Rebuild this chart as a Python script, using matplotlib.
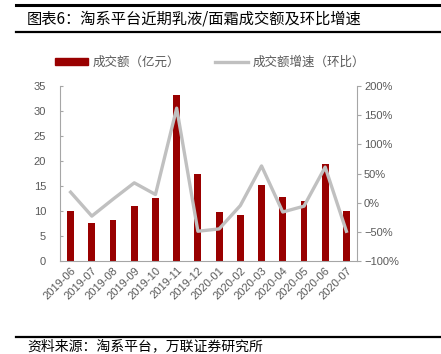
import matplotlib.pyplot as plt
from matplotlib.lines import Line2D
from matplotlib.patches import Patch

plt.rcParams['font.family'] = ['Liberation Sans', 'Noto Sans CJK SC', 'DejaVu Sans']

months = ['2019-06', '2019-07', '2019-08', '2019-09', '2019-10', '2019-11', '2019-12',
          '2020-01', '2020-02', '2020-03', '2020-04', '2020-05', '2020-06', '2020-07']
amount = [10.0, 7.7, 8.2, 11.1, 12.7, 33.3, 17.5, 9.9, 9.3, 15.3, 12.9, 12.0, 19.4, 10.1]
growth = [18, -23, 6, 34, 14, 162, -49, -45, -5, 63, -16, -6, 61, -49]

gray = '#595959'
spine_gray = '#a6a6a6'

fig = plt.figure(figsize=(4.41, 3.54), dpi=100)
ax = fig.add_axes([60/441, 1 - 261/354, 297/441, 175/354])
x = list(range(len(months)))
ax.bar(x, amount, width=0.32, color='#990000', zorder=2)
ax.set_xlim(-0.5, len(months) - 0.5)
ax.set_ylim(0, 35)
ax.set_yticks(range(0, 36, 5))
ax.set_xticks(x)
ax.set_xticklabels(months, rotation=45, ha='right', rotation_mode='anchor')
ax.tick_params(axis='y', direction='in', length=2, colors=spine_gray, labelcolor=gray, labelsize=8, pad=10)
ax.tick_params(axis='x', length=0, labelcolor=gray, labelsize=8, pad=3)
for s in ['top', 'right']:
    ax.spines[s].set_visible(False)
ax.spines['left'].set_color(spine_gray)
ax.spines['bottom'].set_color(spine_gray)

ax2 = ax.twinx()
ax2.plot(x, growth, color='#c0c0c0', lw=2.4, zorder=3)
ax2.set_ylim(-100, 200)
ax2.set_yticks(range(-100, 201, 50))
ax2.set_yticklabels([f'{v}%'.replace('-', '\u2212') for v in range(-100, 201, 50)])
ax2.tick_params(axis='y', direction='out', length=3, colors=spine_gray, labelcolor=gray, labelsize=8, pad=2)
for s in ['top', 'left', 'bottom']:
    ax2.spines[s].set_visible(False)
ax2.spines['right'].set_color(spine_gray)

handles = [Patch(color='#990000'), Line2D([], [], color='#c0c0c0', lw=2.4)]
fig.legend(handles, ['成交额（亿元）', '成交额增速（环比）'], loc='center',
           bbox_to_anchor=(210/441, 1 - 62/354), ncol=2, frameon=False,
           labelcolor=gray, handlelength=2.6, handleheight=0.5, handletextpad=0.4,
           columnspacing=2.8, prop={'family': ['Noto Sans CJK SC'], 'size': 9})

# header / footer rules and text
fig.add_artist(Line2D([16/441, 1], [1 - 5/354] * 2, color='black', lw=2.2))
fig.add_artist(Line2D([16/441, 1], [1 - 32/354] * 2, color='black', lw=1.6))
fig.add_artist(Line2D([16/441, 1], [1 - 337/354] * 2, color='black', lw=1.6))
fig.text(27/441, 1 - 19/354, '图表6：淘系平台近期乳液/面霜成交额及环比增速', fontsize=11,
         family=['Noto Sans CJK SC'], va='center', ha='left')
fig.text(27/441, 1 - 353/354, '资料来源：淘系平台，万联证券研究所', fontsize=10,
         family=['Noto Sans CJK SC'], style='italic', va='bottom', ha='left')

fig.savefig('out.png', dpi=100)
